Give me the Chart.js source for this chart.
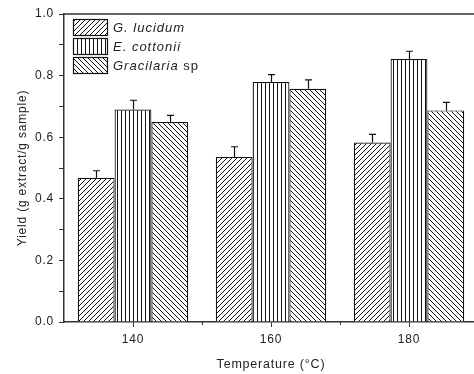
<!DOCTYPE html>
<html>
<head>
<meta charset="utf-8">
<script src="https://cdn.jsdelivr.net/npm/chart.js@4.4.1/dist/chart.umd.min.js"></script>
<style>
    html, body { margin: 0; padding: 0; background: #fff; overflow: hidden; }
    #wrap { width: 474px; height: 374px; overflow: hidden; }
</style>
</head>
<body>
<div id="wrap">
    <canvas id="yieldChart" width="490" height="374"></canvas>
</div>
<script>
const temperatures = ['140', '160', '180'];
const lucidumYield = [0.468, 0.536, 0.583];
const lucidumErr = [0.023, 0.033, 0.026];
const cottoniiYield = [0.690, 0.779, 0.854];
const cottoniiErr = [0.030, 0.024, 0.025];
const gracilariaYield = [0.649, 0.757, 0.687];
const gracilariaErr = [0.022, 0.029, 0.026];
const yTicks = [0, 0.2, 0.4, 0.6, 0.8, 1.0];

const INK = '#222';
const AXIS = '#333';
const FONT = '"Liberation Sans", Arial, sans-serif';

// hatch fills for the three species
function makeHatch(kind) {
    const s = kind === 'vertical' ? 4 : 5;
    const c = document.createElement('canvas');
    c.width = s;
    c.height = s;
    const g = c.getContext('2d');
    g.fillStyle = '#fff';
    g.fillRect(0, 0, s, s);
    g.strokeStyle = '#111';
    g.lineWidth = 1;
    g.beginPath();
    if (kind === 'vertical') {
        g.moveTo(1.5, 0);
        g.lineTo(1.5, s);
    } else if (kind === 'forward') {
        g.moveTo(0, s); g.lineTo(s, 0);
        g.moveTo(-1, 1); g.lineTo(1, -1);
        g.moveTo(s - 1, s + 1); g.lineTo(s + 1, s - 1);
    } else {
        g.moveTo(0, 0); g.lineTo(s, s);
        g.moveTo(-1, s - 1); g.lineTo(1, s + 1);
        g.moveTo(s - 1, -1); g.lineTo(s + 1, 1);
    }
    g.stroke();
    return g.createPattern(c, 'repeat');
}

const patterns = {
    lucidum: makeHatch('forward'),
    cottonii: makeHatch('vertical'),
    gracilaria: makeHatch('backward')
};

// slightly spread lettering for all canvas text
const spacing = {
    id: 'spacing',
    beforeDraw(chart) {
        chart.ctx.letterSpacing = '0.8px';
    }
};

// upper error whiskers with a small cap
const errorBars = {
    id: 'errorBars',
    afterDatasetsDraw(chart) {
        const ctx = chart.ctx;
        const y = chart.scales.y;
        ctx.save();
        ctx.strokeStyle = '#111';
        ctx.lineWidth = 1.2;
        chart.data.datasets.forEach((ds, i) => {
            const meta = chart.getDatasetMeta(i);
            meta.data.forEach((bar, j) => {
                const top = y.getPixelForValue(ds.data[j] + ds.errors[j]);
                const x = Math.round(bar.x) + 0.5;
                ctx.beginPath();
                ctx.moveTo(x, bar.y);
                ctx.lineTo(x, top);
                ctx.moveTo(x - 3.5, top);
                ctx.lineTo(x + 3.5, top);
                ctx.stroke();
            });
        });
        ctx.restore();
    }
};

// top frame line and the small ticks between categories
const frame = {
    id: 'frame',
    afterDraw(chart) {
        const ctx = chart.ctx;
        const area = chart.chartArea;
        const x = chart.scales.x;
        ctx.save();
        ctx.strokeStyle = AXIS;
        ctx.lineWidth = 1.5;
        ctx.beginPath();
        ctx.moveTo(area.left, area.top);
        ctx.lineTo(area.right, area.top);
        ctx.lineTo(area.right, area.bottom);
        ctx.stroke();
        ctx.lineWidth = 1;
        for (let i = 0; i < temperatures.length - 1; i++) {
            const mx = Math.round((x.getPixelForValue(i) + x.getPixelForValue(i + 1)) / 2) + 0.5;
            ctx.beginPath();
            ctx.moveTo(mx, area.bottom);
            ctx.lineTo(mx, area.bottom + 3);
            ctx.stroke();
        }
        ctx.restore();
    }
};

// boxed legend, species names in italics
const hatchLegend = {
    id: 'hatchLegend',
    afterDraw(chart) {
        const ctx = chart.ctx;
        const area = chart.chartArea;
        const left = area.left + 9.5;
        const top = area.top + 5.5;
        ctx.save();
        ctx.letterSpacing = '1px';
        chart.data.datasets.forEach((ds, i) => {
            const by = top + i * 19;
            ctx.fillStyle = ds.backgroundColor;
            ctx.fillRect(left, by, 34, 16);
            ctx.strokeStyle = '#111';
            ctx.lineWidth = 1.2;
            ctx.strokeRect(left, by, 34, 16);
            ctx.fillStyle = INK;
            ctx.textBaseline = 'middle';
            ctx.font = 'italic 13px ' + FONT;
            let tx = left + 39.5;
            ctx.fillText(ds.label, tx, by + 8.5);
            if (ds.suffix) {
                tx += ctx.measureText(ds.label + ' ').width;
                ctx.font = '13px ' + FONT;
                ctx.fillText(ds.suffix, tx, by + 8.5);
            }
        });
        ctx.restore();
    }
};

new Chart(document.getElementById('yieldChart'), {
    type: 'bar',
    data: {
        labels: temperatures,
        datasets: [
            {
                label: 'G. lucidum',
                data: lucidumYield,
                errors: lucidumErr,
                backgroundColor: patterns.lucidum,
                borderColor: '#111',
                borderWidth: 1.2
            },
            {
                label: 'E. cottonii',
                data: cottoniiYield,
                errors: cottoniiErr,
                backgroundColor: patterns.cottonii,
                borderColor: '#111',
                borderWidth: 1.2
            },
            {
                label: 'Gracilaria',
                suffix: 'sp',
                data: gracilariaYield,
                errors: gracilariaErr,
                backgroundColor: patterns.gracilaria,
                borderColor: '#111',
                borderWidth: 1.2
            }
        ]
    },
    options: {
        responsive: false,
        animation: false,
        categoryPercentage: 0.8,
        barPercentage: 1.0,
        layout: {
            padding: { top: 14, right: 12, left: 0, bottom: 0 }
        },
        scales: {
            x: {
                offset: true,
                grid: {
                    offset: false,
                    drawOnChartArea: false,
                    tickLength: 5,
                    color: AXIS
                },
                border: { color: AXIS, width: 1.5 },
                ticks: {
                    color: INK,
                    padding: 5,
                    font: { family: FONT, size: 12 }
                },
                title: {
                    display: true,
                    text: 'Temperature (°C)',
                    color: INK,
                    padding: { top: 4, bottom: 2 },
                    font: { family: FONT, size: 12.5 }
                },
                afterFit(scale) { scale.height = 52; }
            },
            y: {
                min: 0,
                max: 1,
                grid: {
                    drawOnChartArea: false,
                    tickLength: 5,
                    color: AXIS
                },
                border: { color: AXIS, width: 1.5 },
                ticks: {
                    stepSize: 0.1,
                    autoSkip: false,
                    color: INK,
                    padding: 5,
                    font: { family: FONT, size: 12 },
                    callback: (v) => yTicks.some(t => Math.abs(t - v) < 1e-6) ? v.toFixed(1) : ''
                },
                title: {
                    display: true,
                    text: 'Yield (g extract/g sample)',
                    color: INK,
                    padding: { top: 15, bottom: 0 },
                    font: { family: FONT, size: 12 }
                },
                afterFit(scale) { scale.width = 64; }
            }
        },
        plugins: {
            legend: { display: false },
            tooltip: { enabled: false }
        }
    },
    plugins: [spacing, errorBars, frame, hatchLegend]
});
</script>
</body>
</html>
